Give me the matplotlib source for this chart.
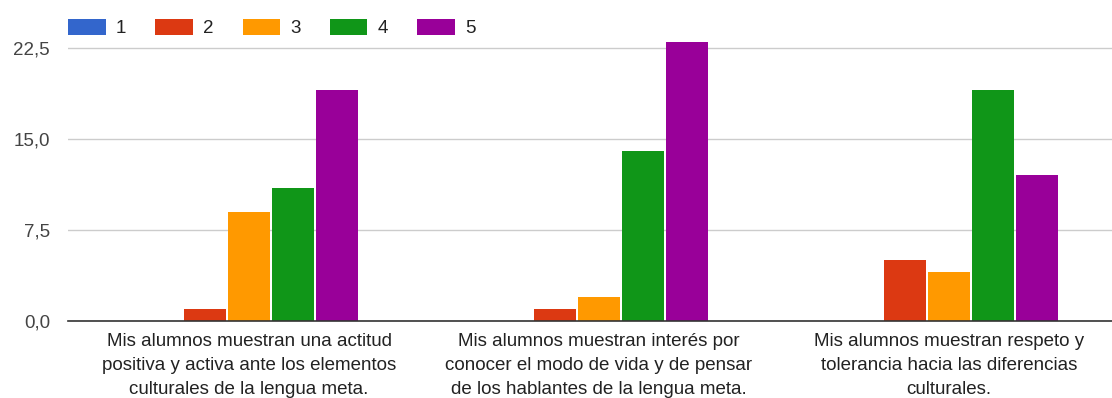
import numpy as np
from matplotlib import pyplot as plt

plt.rcParams['font.family'] = ['Liberation Sans', 'DejaVu Sans']

categories = [
    "Mis alumnos muestran una actitud\npositiva y activa ante los elementos\nculturales de la lengua meta.",
    "Mis alumnos muestran interés por\nconocer el modo de vida y de pensar\nde los hablantes de la lengua meta.",
    "Mis alumnos muestran respeto y\ntolerancia hacia las diferencias\nculturales.",
]
series_names = ["1", "2", "3", "4", "5"]
vals_1 = [0, 0, 0]
vals_2 = [1, 1, 5]
vals_3 = [9, 2, 4]
vals_4 = [11, 14, 19]
vals_5 = [19, 23, 12]
yticks = [0, 7.5, 15, 22.5]
ytick_labels = ["0,0", "7,5", "15,0", "22,5"]

colors = ["#3366cc", "#dc3912", "#ff9900", "#109618", "#990099"]
series = [vals_1, vals_2, vals_3, vals_4, vals_5]

W, H = 1112, 398
px_per_unit = 273 / 22.5
ytop = 23.3
ax_top = 48 - (ytop - 22.5) * px_per_unit
fig = plt.figure(figsize=(W / 100, H / 100), dpi=100)
ax = fig.add_axes([68 / W, (H - 321) / H, (W - 68) / W, (321 - ax_top) / H])

x = np.arange(len(categories))
step = 44 / 350
for i, (name, vals) in enumerate(zip(series_names, series)):
    ax.bar(x + (i - 2) * step, vals, width=42 / 350, color=colors[i], label=name, zorder=3)

ax.set_xlim(-0.5 - 6 / 350, -0.5 - 6 / 350 + (W - 68) / 350)
ax.set_ylim(0, ytop)
ax.set_yticks(yticks)
ax.set_yticklabels(ytick_labels)
ax.set_xticks(x)
ax.set_xticklabels(categories, fontsize=13.5, color="#222222", linespacing=1.5)
ax.tick_params(axis='y', length=0, labelsize=13.5, labelcolor="#444444", pad=13)
ax.tick_params(axis='x', length=0, pad=9)
ax.grid(axis='y', color="#cccccc", linewidth=1, zorder=0)
for s in ['top', 'right', 'left']:
    ax.spines[s].set_visible(False)
ax.spines['bottom'].set_color("#333333")
ax.spines['bottom'].set_linewidth(1.2)
ax.spines['bottom'].set_zorder(4)

fig.legend(loc='center left', bbox_to_anchor=(68 / W, 1 - 28 / H), ncol=5, frameon=False,
           fontsize=13.5, handlelength=2.0, handleheight=1.0, columnspacing=1.55,
           handletextpad=0.55, borderaxespad=0, borderpad=0, labelcolor="#222222")

fig.savefig("out.png")
